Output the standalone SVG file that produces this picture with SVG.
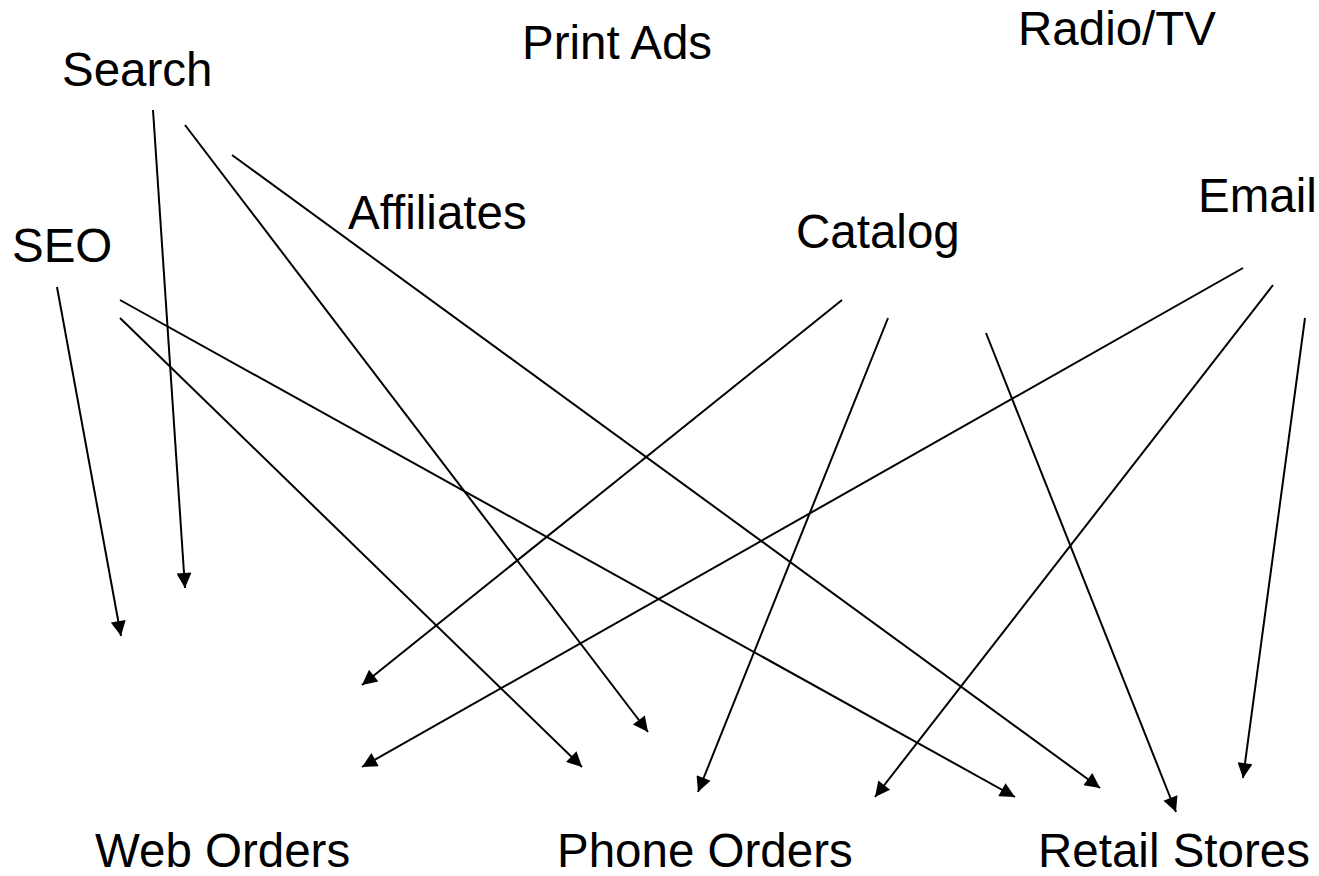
<svg xmlns="http://www.w3.org/2000/svg" width="1319" height="876" viewBox="0 0 1319 876">
  <defs>
    <marker id="arrow" viewBox="0 0 10 10" refX="10" refY="5" markerWidth="18" markerHeight="15" markerUnits="userSpaceOnUse" orient="auto">
      <path d="M0,0 L10,5 L0,10 z" fill="#000"/>
    </marker>
    <style>
      .label { font-family: "Liberation Sans", Arial, sans-serif; font-size: 47.5px; fill: #000; }
      .conn line { stroke: #000; stroke-width: 2; marker-end: url(#arrow); }
    </style>
  </defs>
  <rect width="1319" height="876" fill="#fff"/>

  <g id="connectors" class="conn">
    <line x1="153" y1="110" x2="185" y2="588"/>
    <line x1="185" y1="125" x2="648" y2="732"/>
    <line x1="232" y1="155" x2="1100" y2="788"/>
    <line x1="57" y1="287" x2="121" y2="636"/>
    <line x1="120" y1="300" x2="1015" y2="797"/>
    <line x1="120" y1="318" x2="582" y2="767"/>
    <line x1="842" y1="300" x2="362" y2="685"/>
    <line x1="888" y1="318" x2="698" y2="792"/>
    <line x1="986" y1="333" x2="1176" y2="812"/>
    <line x1="1243" y1="268" x2="362" y2="767"/>
    <line x1="1273" y1="285" x2="875" y2="797"/>
    <line x1="1305" y1="318" x2="1243" y2="778"/>
  </g>

  <g id="search"><text class="label" x="62" y="86">Search</text></g>
  <g id="print-ads"><text class="label" x="522" y="59">Print Ads</text></g>
  <g id="radio-tv"><text class="label" x="1018" y="45">Radio/TV</text></g>
  <g id="affiliates"><text class="label" x="348" y="229">Affiliates</text></g>
  <g id="catalog"><text class="label" x="796" y="248">Catalog</text></g>
  <g id="email"><text class="label" x="1198" y="212">Email</text></g>
  <g id="seo"><text class="label" x="12" y="262">SEO</text></g>
  <g id="web-orders"><text class="label" x="95" y="867">Web Orders</text></g>
  <g id="phone-orders"><text class="label" x="557" y="867">Phone Orders</text></g>
  <g id="retail-stores"><text class="label" x="1038" y="867">Retail Stores</text></g>
</svg>
